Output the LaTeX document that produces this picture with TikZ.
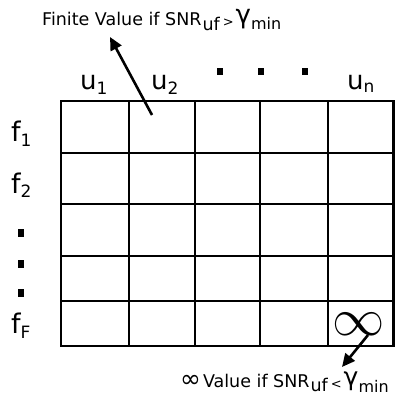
\documentclass[tikz,border=0pt]{standalone}
\usepackage{fontspec}
\setmainfont{DejaVu Sans}
\usetikzlibrary{arrows.meta}
\tikzset{
  gridline/.style={line width=2.7pt, line cap=rect},
  pointer/.style={line width=2.6pt, -{Triangle[length=13pt,width=12pt]}},
  ulab/.style={anchor=base west, inner sep=0pt, font=\fontsize{26}{28}\selectfont},
  flab/.style={anchor=base west, inner sep=0pt, font=\fontsize{27}{29}\selectfont},
  note/.style={anchor=base west, inner sep=0pt, font=\fontsize{17.5}{19}\selectfont},
  dotsq/.style={fill=black, draw=none}
}
\newcommand{\sublab}[2]{#1\raisebox{-5pt}{\fontsize{17}{18}\selectfont #2}}
\begin{document}
\begin{tikzpicture}[x=1pt,y=-1pt]
\useasboundingbox (0,0) rectangle (395,395);
% grid
\foreach \x in {61,129,195,260,328,393.5} \draw[gridline] (\x,101) -- (\x,346);
\foreach \y in {101,153,204,256,301,346} \draw[gridline] (61,\y) -- (393.5,\y);
% column labels
\node[ulab] (u1) at (80,90) {\sublab{u}{1}};
\node[ulab] (u2) at (151,90) {\sublab{u}{2}};
\node[ulab] (un) at (347,90) {u\raisebox{-3pt}{\fontsize{17}{18}\selectfont n}};
\fill[dotsq] (217,68) rectangle (223,75);
\fill[dotsq] (258,68) rectangle (264,75);
\fill[dotsq] (302,68) rectangle (308,75);
% row labels
\node[flab] (f1) at (11,142) {\sublab{f}{1}};
\node[flab] (f2) at (11,193) {\sublab{f}{2}};
\node[flab] (fF) at (11,333) {\sublab{f}{F}};
\fill[dotsq] (18,229) rectangle (24,237);
\fill[dotsq] (18,260) rectangle (24,268);
\fill[dotsq] (18,289) rectangle (24,297);
% infinity in last cell
\node[inner sep=0pt] (inf) at (359,324) {\scalebox{2.1}{\fontsize{24}{24}\selectfont$\infty$}};
% notes
\node[note] (fin) at (42,26) {Finite Value if SNR\raisebox{-5pt}{\kern1pt uf}\kern3pt\raisebox{-1pt}{\fontsize{13}{14}\selectfont >}\kern2pt\raisebox{2pt}{\fontsize{26}{26}\selectfont γ}\raisebox{-4pt}{\fontsize{16}{17}\selectfont min}};
\node[note] (infval) at (180,387) {{\fontsize{25}{25}\selectfont ∞}\kern2pt Value if SNR\raisebox{-4pt}{\kern1pt uf}\kern3pt\raisebox{-1pt}{\fontsize{13}{14}\selectfont <}\kern2pt\raisebox{2pt}{\fontsize{25}{25}\selectfont γ}\raisebox{-5pt}{\fontsize{16}{17}\selectfont min}};
% pointers
\coordinate (cellA) at (152,115);
\coordinate (tipA) at (110,37);
\draw[pointer] (cellA) -- (tipA);
\coordinate (cellB) at (368,335);
\coordinate (tipB) at (342,367);
\draw[pointer] (cellB) -- (tipB);
\end{tikzpicture}
\end{document}
